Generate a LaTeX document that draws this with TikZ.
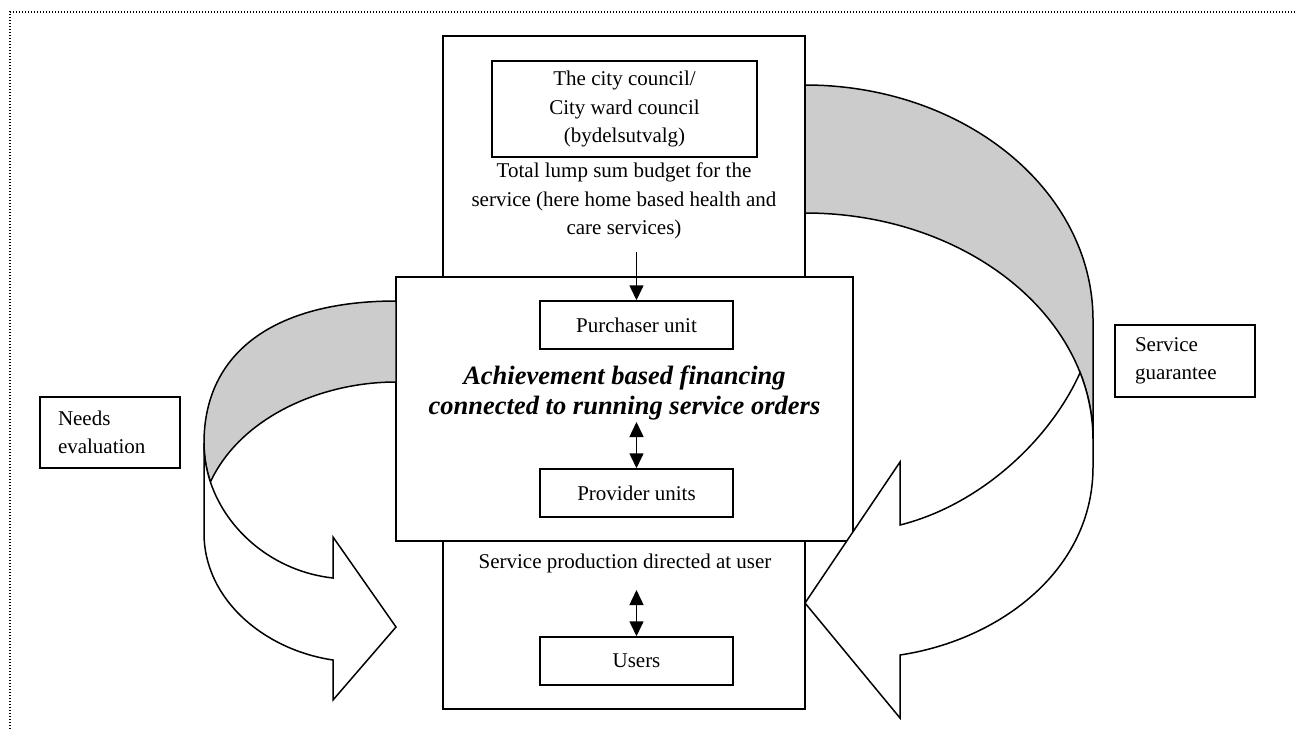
\documentclass[tikz,border=0pt]{standalone}
\usepackage{fontspec}
\setmainfont{Liberation Serif}
\usetikzlibrary{arrows.meta}
\definecolor{bandgray}{RGB}{204,204,204}
\tikzset{
  box/.style={draw, line width=1.5pt, fill=white, inner sep=0pt,
    font=\fontsize{21}{28.5}\selectfont, align=center},
  lbl/.style={font=\fontsize{21}{28.5}\selectfont, align=center, inner sep=0pt},
  boldlbl/.style={font=\fontsize{26.5}{30}\selectfont\bfseries\itshape, align=center, inner sep=0pt},
  sidebox/.style={draw, line width=1.5pt, fill=white, inner ysep=0pt, inner xsep=18pt,
    text width=104pt, minimum height=71pt, align=left,
    font=\fontsize{21}{28}\selectfont},
  onetip/.style={line width=1.5pt, -{Triangle[length=15pt,width=14pt]}},
  twotip/.style={line width=1.5pt,
    {Triangle[length=15pt,width=14pt]}-{Triangle[length=15pt,width=14pt]}},
  band/.style={fill=bandgray, draw, line width=1.5pt, line join=round},
  face/.style={fill=white, draw, line width=1.5pt, line join=miter},
  frame/.style={line width=1.4pt, dash pattern=on 1.4pt off 1.6pt},
}
\begin{document}
\begin{tikzpicture}[x=1pt, y=-1pt]
\useasboundingbox (0,0) rectangle (1295,729);

% dotted page frame
\draw[frame] (10,729) -- (10,12) -- (1295,12);

% tall box: council budget on top, service production below
\node[box, minimum width=362pt, minimum height=673pt] (outer) at (624,372.5) {};
\node[box, minimum width=265pt, minimum height=96pt] (council) at (624.5,109)
  {The city council/\\City ward council\\(bydelsutvalg)};
\node[lbl] (budget) at (624,201)
  {Total lump sum budget for the\\service (here home based health and\\care services)};

% financing box
\node[box, minimum width=457pt, minimum height=264pt] (financing) at (624.5,409) {};
\node[box, minimum width=193pt, minimum height=48pt] (purchaser) at (636.5,325) {Purchaser unit};
\node[boldlbl] (abf) at (624.5,393)
  {Achievement based financing\\connected to running service orders};
\node[box, minimum width=193pt, minimum height=48pt] (provider) at (636.5,493) {Provider units};

% service production and users
\node[lbl] (prod) at (625,563) {Service production directed at user};
\node[box, minimum width=193pt, minimum height=48pt] (users) at (636.5,661) {Users};

% connectors
\coordinate (budgetout) at (636.5,252);
\coordinate (abfout) at (636.5,422);
\coordinate (prodout) at (636.5,590);
\draw[onetip] (budgetout) -- (purchaser.north);
\draw[twotip] (abfout) -- (provider.north);
\draw[twotip] (prodout) -- (users.north);

% side labels
\node[sidebox] (needs) at (110,432.5) {Needs\\evaluation};
\node[sidebox, inner xsep=20pt, text width=100pt, minimum height=72pt] (guarantee) at (1185,361)
  {Service\\guarantee};

% left curved arrow: back of the band (grey) and front face with head
\path[band] (396,301) .. controls (275,301) and (204,352) .. (204,443)
  .. controls (204,456.4) and (206.2,469.5) .. (210.4,482)
  .. controls (240,418) and (320,382) .. (396,382) -- cycle;
\path[face] (204,443) -- (204,533) .. controls (204,600) and (265,650) .. (333,660)
  -- (333,700) -- (396,627) -- (333,537) -- (333,578)
  .. controls (274.6,571.6) and (227.1,531.9) .. (210.4,482)
  .. controls (206.2,469.5) and (204,456.4) .. (204,443) -- cycle;

% right curved arrow
\path[band] (805,85) .. controls (964,85) and (1093,190) .. (1093,320) -- (1093,440)
  .. controls (1093,314.6) and (964,213) .. (805,213) -- cycle;
\path[face] (1093,440) -- (1093,467) .. controls (1093,570) and (1000,640) .. (900,655)
  -- (900,718) -- (805,603) -- (900,462) -- (900,525)
  .. controls (980,505) and (1050,440) .. (1080.1,372.6)
  .. controls (1088.5,393.9) and (1093,416.55) .. (1093,440) -- cycle;
\end{tikzpicture}
\end{document}
